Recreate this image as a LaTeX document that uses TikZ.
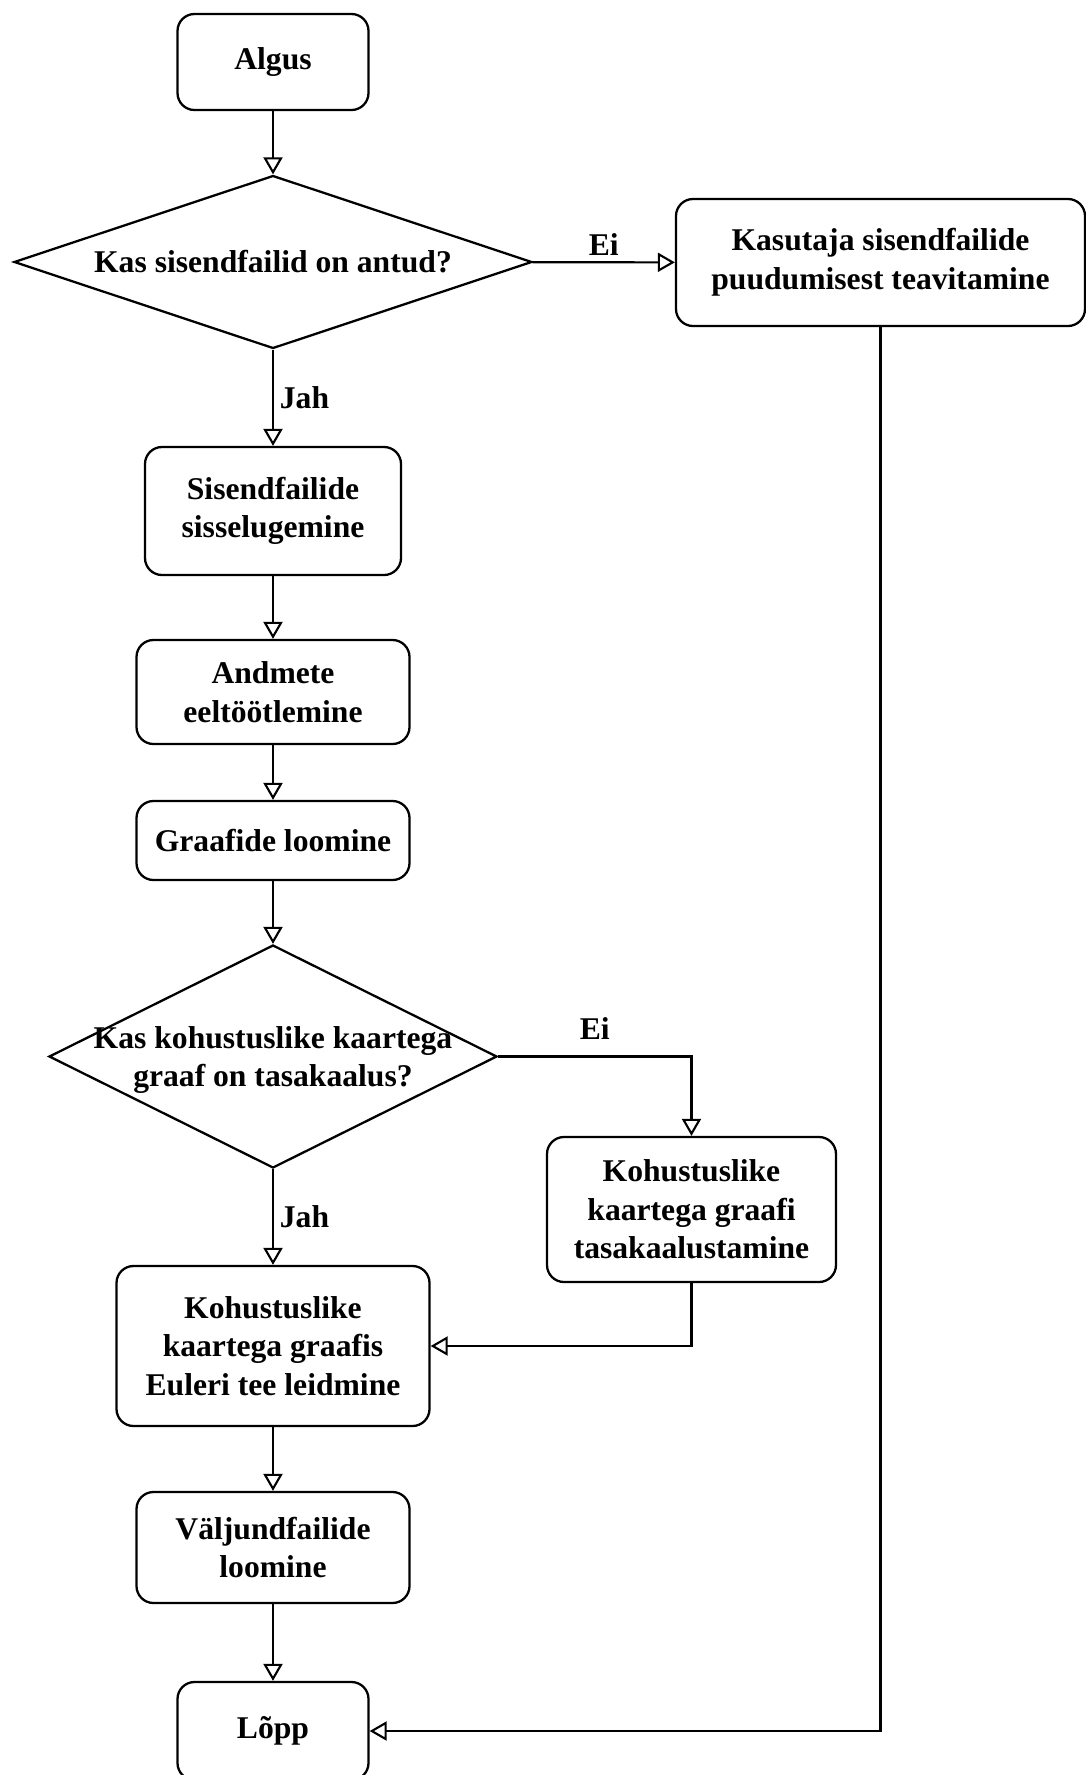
\documentclass[tikz,border=0pt]{standalone}
\usepackage{fontspec}
\setmainfont{Liberation Serif}
\usetikzlibrary{shapes.geometric,arrows.meta}
\begin{document}
\begin{tikzpicture}
  [every node/.style={font=\bfseries\fontsize{18}{22}\selectfont},
   box/.style={draw,line width=1.3pt,rounded corners=0.34cm,align=center,inner sep=0pt},
   decision/.style={draw,diamond,line width=1.3pt,aspect=3,align=center,inner sep=0pt},
   flow/.style={line width=1.2pt,-{Triangle[open,length=0.34cm,width=0.38cm]}}]
  \useasboundingbox (0,0) rectangle (21.7,-35.5);

  \node[box,minimum width=3.82cm,minimum height=1.92cm] (algus) at (5.46,-1.24) {Algus};
  \node[decision,minimum width=10.36cm,minimum height=3.46cm] (q1) at (5.46,-5.24) {Kas sisendfailid on antud?};
  \node[box,minimum width=8.18cm,minimum height=2.54cm] (teavitus) at (17.61,-5.25) {Kasutaja sisendfailide\\puudumisest teavitamine};
  \node[box,minimum width=5.12cm,minimum height=2.56cm] (sisse) at (5.46,-10.22) {Sisendfailide\\sisselugemine};
  \node[box,minimum width=5.46cm,minimum height=2.08cm] (andmed) at (5.46,-13.84) {Andmete\\eeltöötlemine};
  \node[box,minimum width=5.46cm,minimum height=1.58cm] (graafid) at (5.46,-16.81) {Graafide loomine};
  \node[decision,minimum width=8.96cm,minimum height=4.46cm] (q2) at (5.46,-21.13) {};
  \node[align=center] (q2text) at (5.46,-21.2) {Kas kohustuslike kaartega\\graaf on tasakaalus?};
  \node[box,minimum width=5.78cm,minimum height=2.9cm] (tasak) at (13.83,-24.19) {Kohustuslike\\kaartega graafi\\tasakaalustamine};
  \node[box,minimum width=6.26cm,minimum height=3.2cm] (euler) at (5.46,-26.92) {Kohustuslike\\kaartega graafis\\Euleri tee leidmine};
  \node[box,minimum width=5.46cm,minimum height=2.22cm] (valjund) at (5.46,-30.95) {Väljundfailide\\loomine};
  \node[box,minimum width=3.82cm,minimum height=1.96cm] (lopp) at (5.46,-34.62) {Lõpp};

  \foreach \from/\to in {algus/q1,sisse/andmed,andmed/graafid,graafid/q2,euler/valjund,valjund/lopp}
    \draw[flow] (\from) -- (\to);
  \path
     (q1) edge[flow] node[right] {Jah} (sisse)
     (q2) edge[flow] node[right] {Jah} (euler)
     (q1) edge[flow] node[above] {Ei} (teavitus);
  \draw[flow] (q2.east) -| node[above,pos=0.25,yshift=0.2cm] {Ei} (tasak.north);
  \draw[flow] (tasak.south) |- (euler.east);
  \draw[flow] (teavitus.south) |- (lopp.east);
\end{tikzpicture}
\end{document}
